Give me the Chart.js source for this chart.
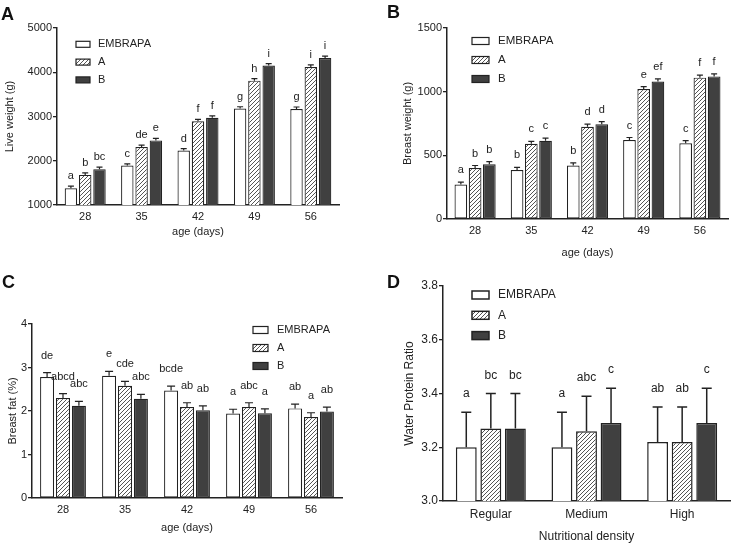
<!DOCTYPE html>
<html>
<head>
<meta charset="utf-8">
<script src="https://cdn.jsdelivr.net/npm/chart.js@4.4.1/dist/chart.umd.min.js"></script>
<style>
body { margin: 0; background: #fff; width: 738px; height: 544px; position: relative; overflow: hidden; font-family: "Liberation Sans", Arial, sans-serif; }
canvas { position: absolute; }
.tag { position: absolute; font-weight: bold; font-size: 18px; line-height: 18px; color: #111; }
</style>
</head>
<body>
<canvas id="chartA" width="369" height="270" style="left:0;top:0"></canvas>
<canvas id="chartB" width="369" height="270" style="left:369px;top:0"></canvas>
<canvas id="chartC" width="369" height="274" style="left:0;top:270px"></canvas>
<canvas id="chartD" width="369" height="274" style="left:369px;top:270px"></canvas>
<div class="tag" style="left:1px;top:5px">A</div>
<div class="tag" style="left:387px;top:3px">B</div>
<div class="tag" style="left:2px;top:273px">C</div>
<div class="tag" style="left:387px;top:273px">D</div>
<script>
//------------------------------------------DATA------------------------------------------
var groups = ["EMBRAPA", "A", "B"];
var ages = ["28", "35", "42", "49", "56"];
var densities = ["Regular", "Medium", "High"];

// A: live weight (g)
var liveEmbrapa = [1380, 1890, 2230, 3180, 3170];
var liveA = [1680, 2310, 2890, 3810, 4120];
var liveB = [1810, 2460, 2970, 4150, 4320];
var liveEmbrapaErr = [45, 40, 45, 40, 45];
var liveAErr = [45, 45, 45, 45, 45];
var liveBErr = [45, 45, 45, 45, 45];
var liveEmbrapaTags = ["a", "c", "d", "g", "g"];
var liveATags = ["b", "de", "f", "h", "i"];
var liveBTags = ["bc", "e", "f", "i", "i"];

// B: breast weight (g)
var breastEmbrapa = [270, 385, 420, 620, 595];
var breastA = [400, 590, 725, 1020, 1110];
var breastB = [430, 615, 745, 1080, 1120];
var breastEmbrapaErr = [20, 20, 20, 20, 20];
var breastAErr = [20, 20, 20, 20, 20];
var breastBErr = [20, 20, 20, 20, 20];
var breastEmbrapaTags = ["a", "b", "b", "c", "c"];
var breastATags = ["b", "c", "d", "e", "f"];
var breastBTags = ["b", "c", "d", "ef", "f"];

// C: breast fat (%)
var fatEmbrapa = [2.78, 2.81, 2.47, 1.94, 2.06];
var fatA = [2.30, 2.58, 2.09, 2.09, 1.86];
var fatB = [2.12, 2.28, 2.02, 1.95, 1.99];
var fatEmbrapaErr = [0.1, 0.1, 0.1, 0.1, 0.1];
var fatAErr = [0.1, 0.1, 0.1, 0.1, 0.1];
var fatBErr = [0.1, 0.1, 0.1, 0.1, 0.1];
var fatEmbrapaTags = ["de", "e", "bcde", "a", "ab"];
var fatATags = ["abcd", "cde", "ab", "abc", "a"];
var fatBTags = ["abc", "abc", "ab", "a", "ab"];

// D: water protein ratio
var wprEmbrapa = [3.20, 3.20, 3.22];
var wprA = [3.27, 3.26, 3.22];
var wprB = [3.27, 3.29, 3.29];
var wprEmbrapaErr = [0.13, 0.13, 0.13];
var wprAErr = [0.13, 0.13, 0.13];
var wprBErr = [0.13, 0.13, 0.13];
var wprEmbrapaTags = ["a", "a", "ab"];
var wprATags = ["bc", "abc", "ab"];
var wprBTags = ["bc", "c", "c"];

//------------------------------------------STYLE------------------------------------------
Chart.defaults.font.family = '"Liberation Sans", Arial, sans-serif';
var ink = '#222';

function hatch() {
  var c = document.createElement('canvas');
  c.width = 4; c.height = 4;
  var g = c.getContext('2d');
  g.fillStyle = '#fff';
  g.fillRect(0, 0, 4, 4);
  g.strokeStyle = '#555';
  g.lineWidth = 1;
  g.beginPath();
  g.moveTo(0, 4); g.lineTo(4, 0);
  g.moveTo(-1, 1); g.lineTo(1, -1);
  g.moveTo(3, 5); g.lineTo(5, 3);
  g.stroke();
  return g.createPattern(c, 'repeat');
}
var fills = ['#ffffff', hatch(), '#404040'];

// error bars, letters and legend
function extras(cfg) {
  return {
    id: 'extras',
    afterDatasetsDraw: function(chart) {
      var ctx = chart.ctx, y = chart.scales.y;
      ctx.save();
      ctx.strokeStyle = ink;
      ctx.fillStyle = ink;
      ctx.lineWidth = cfg.lw;
      ctx.font = cfg.font;
      ctx.textAlign = 'center';
      ctx.textBaseline = 'alphabetic';
      chart.data.datasets.forEach(function(ds, i) {
        chart.getDatasetMeta(i).data.forEach(function(bar, j) {
          var top = y.getPixelForValue(ds.data[j] + ds.err[j]);
          ctx.beginPath();
          ctx.moveTo(bar.x, bar.y);
          ctx.lineTo(bar.x, top);
          ctx.moveTo(bar.x - cfg.cap, top);
          ctx.lineTo(bar.x + cfg.cap, top);
          ctx.stroke();
          ctx.fillText(ds.tags[j], bar.x, top - cfg.gap);
        });
      });
      var L = cfg.legend;
      ctx.textAlign = 'left';
      ctx.textBaseline = 'middle';
      ctx.font = L.font;
      chart.data.datasets.forEach(function(ds, i) {
        var ly = L.y + i * L.step;
        ctx.fillStyle = ds.backgroundColor;
        ctx.fillRect(L.x, ly - L.h / 2, L.w, L.h);
        ctx.strokeRect(L.x, ly - L.h / 2, L.w, L.h);
        ctx.fillStyle = ink;
        ctx.fillText(ds.label, L.x + L.w + L.gap, ly);
      });
      ctx.restore();
    }
  };
}

function panel(id, cats, values, errs, tags, cfg) {
  var sets = groups.map(function(name, i) {
    return {
      label: name,
      data: values[i],
      err: errs[i],
      tags: tags[i],
      backgroundColor: fills[i],
      borderColor: ink,
      borderWidth: cfg.bw,
      borderSkipped: false,
      categoryPercentage: cfg.cat,
      barPercentage: cfg.bar
    };
  });
  new Chart(document.getElementById(id), {
    type: 'bar',
    data: { labels: cats, datasets: sets },
    options: {
      responsive: false,
      animation: false,
      layout: { padding: { left: 0, top: cfg.top, right: cfg.right, bottom: cfg.bottom } },
      plugins: { legend: { display: false }, tooltip: { enabled: false } },
      scales: {
        x: {
          grid: { display: false, drawTicks: false },
          border: { color: ink, width: 1.5 },
          ticks: { color: ink, font: { size: cfg.fs }, padding: cfg.xpad },
          title: { display: true, text: cfg.xtitle, color: ink, font: { size: cfg.fs }, padding: 0 },
          afterFit: function(s) { s.height = cfg.xh; }
        },
        y: {
          min: cfg.min, max: cfg.max,
          grid: { display: true, drawOnChartArea: false, tickLength: 4, color: ink, lineWidth: 1.3 },
          border: { color: ink, width: 1.5 },
          ticks: {
            stepSize: cfg.step, color: ink, font: { size: cfg.fs }, padding: 1,
            callback: function(v) { return cfg.dec ? v.toFixed(cfg.dec) : v; }
          },
          title: { display: true, text: cfg.ytitle, color: ink, font: { size: cfg.fs }, padding: { top: cfg.ytpad, bottom: 0 } },
          afterFit: function(s) { s.width = cfg.yw; }
        }
      }
    },
    plugins: [extras(cfg)]
  });
}

panel('chartA', ages,
  [liveEmbrapa, liveA, liveB], [liveEmbrapaErr, liveAErr, liveBErr], [liveEmbrapaTags, liveATags, liveBTags],
  { top: 28, right: 30, bottom: 31.4, xh: 33.6, yw: 57, ytpad: 3.4, xpad: 5, fs: 11,
    min: 1000, max: 5000, step: 1000, dec: 0, cat: 0.76, bar: 0.87, bw: 1.2,
    xtitle: 'age (days)', ytitle: 'Live weight (g)',
    lw: 1.2, cap: 3, gap: 7, font: '11px "Liberation Sans", Arial',
    legend: { x: 76, y: 44.3, step: 17.8, w: 14, h: 6, gap: 8, font: '11px "Liberation Sans", Arial' } });

panel('chartB', ages,
  [breastEmbrapa, breastA, breastB], [breastEmbrapaErr, breastAErr, breastBErr], [breastEmbrapaTags, breastATags, breastBTags],
  { top: 28, right: 10, bottom: 10.8, xh: 40.2, yw: 78, ytpad: 32.4, xpad: 5, fs: 11,
    min: 0, max: 1500, step: 500, dec: 0, cat: 0.76, bar: 0.89, bw: 1.2,
    xtitle: 'age (days)', ytitle: 'Breast weight (g)',
    lw: 1.2, cap: 3, gap: 9, font: '11px "Liberation Sans", Arial',
    legend: { x: 103, y: 41, step: 19, w: 17, h: 7, gap: 9, font: '11.5px "Liberation Sans", Arial' } });

panel('chartC', ages,
  [fatEmbrapa, fatA, fatB], [fatEmbrapaErr, fatAErr, fatBErr], [fatEmbrapaTags, fatATags, fatBTags],
  { top: 54, right: 27, bottom: 9.4, xh: 36.6, yw: 32, ytpad: 6.4, xpad: 5, fs: 11,
    min: 0, max: 4, step: 1, dec: 0, cat: 0.77, bar: 0.88, bw: 1.2,
    xtitle: 'age (days)', ytitle: 'Breast fat (%)',
    lw: 1.2, cap: 4, gap: 14, font: '11px "Liberation Sans", Arial',
    legend: { x: 253, y: 60, step: 18, w: 15, h: 7, gap: 9, font: '11px "Liberation Sans", Arial' } });

panel('chartD', densities,
  [wprEmbrapa, wprA, wprB], [wprEmbrapaErr, wprAErr, wprBErr], [wprEmbrapaTags, wprATags, wprBTags],
  { top: 16, right: 8, bottom: 0, xh: 43, yw: 74, ytpad: 33.8, xpad: 6, fs: 12,
    min: 3.0, max: 3.8, step: 0.2, dec: 1, cat: 0.77, bar: 0.85, bw: 1.5,
    xtitle: 'Nutritional density', ytitle: 'Water Protein Ratio',
    lw: 1.5, cap: 5, gap: 15, font: '12px "Liberation Sans", Arial',
    legend: { x: 103, y: 25, step: 20.3, w: 17, h: 8, gap: 9, font: '12px "Liberation Sans", Arial' } });
</script>
</body>
</html>
